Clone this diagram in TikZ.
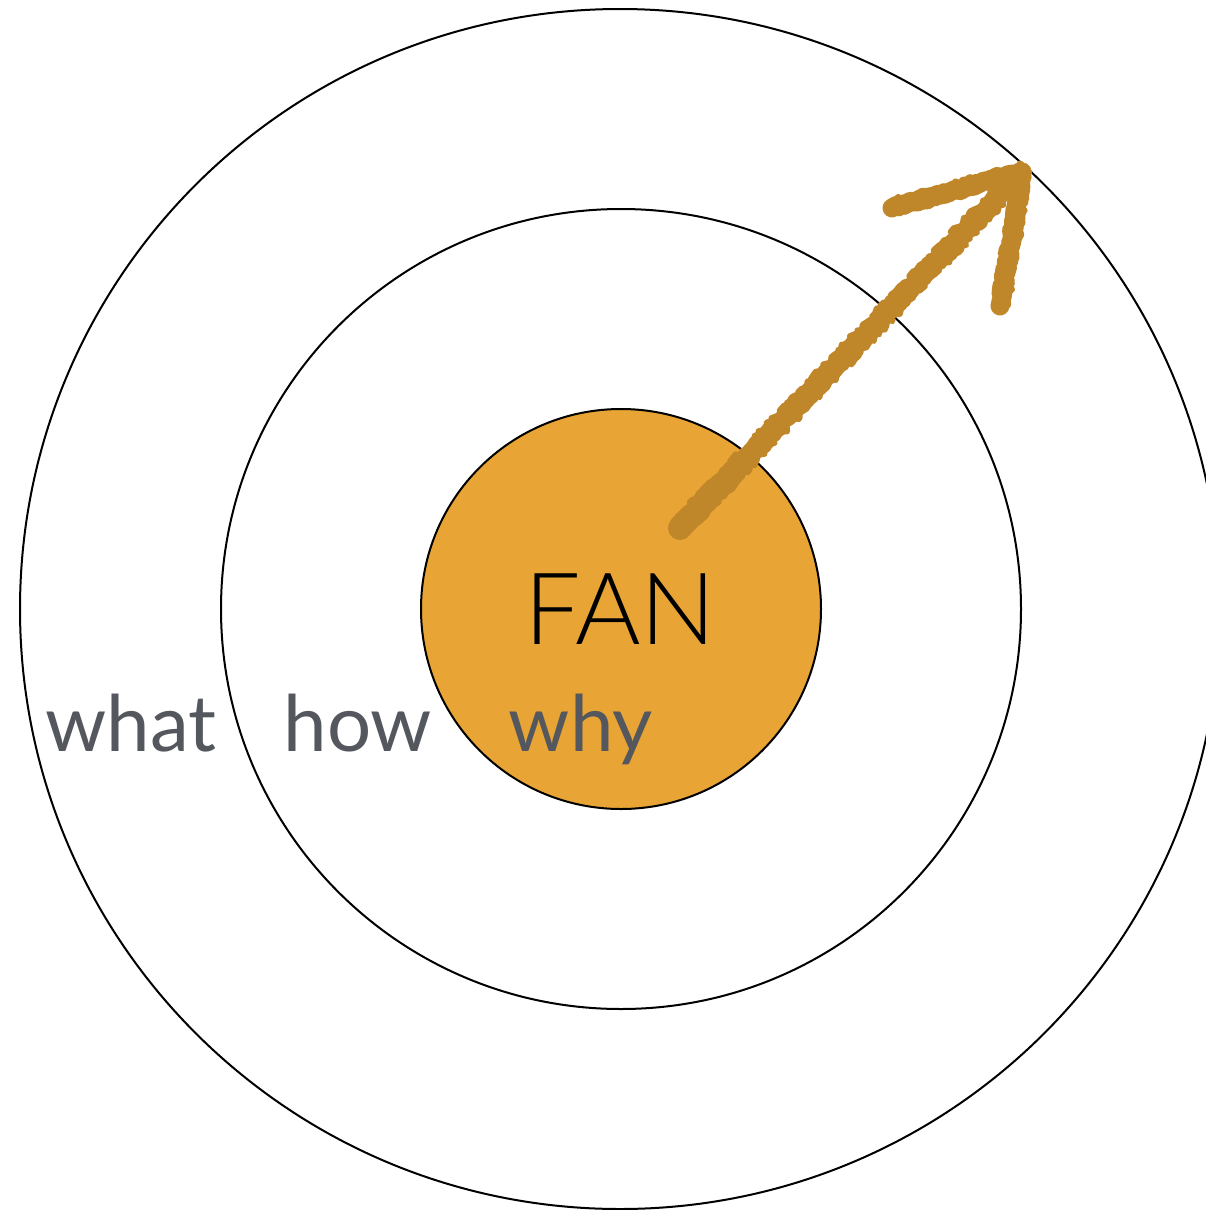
\documentclass[tikz,border=0pt]{standalone}
\usepackage{fontspec}
\setmainfont{Lato}
\newfontfamily\fanfont{Lato Light}
\usetikzlibrary{decorations.pathmorphing,calc}
\definecolor{fanfill}{HTML}{E8A535}
\definecolor{chalk}{HTML}{C0862A}
\definecolor{wordgray}{HTML}{54585E}
\tikzset{
  ring/.style={circle, draw=black, line width=2pt, inner sep=0pt},
  word/.style={text=wordgray, font=\fontsize{78}{90}\selectfont, inner sep=0pt, anchor=base},
  chalkmain/.style={draw=chalk, line width=19pt, line cap=round, line join=round,
    decorate, decoration={random steps, segment length=5pt, amplitude=1.5pt}},
  chalkedge/.style={draw=chalk, line width=6pt, line cap=round, line join=round,
    decorate, decoration={random steps, segment length=3pt, amplitude=2.5pt}}
}
\begin{document}
\begin{tikzpicture}[x=1pt,y=-1pt]
\pgfmathsetseed{7}
\useasboundingbox (0,0) rectangle (1206,1210);
\begin{scope}
\clip (0,0) rectangle (1206,1210);
\node[ring, minimum size=1200pt] (outer) at (620,609) {};
\end{scope}
\node[ring, minimum size=800pt] (middle) at (621,609) {};
\node[ring, minimum size=400pt, fill=fanfill] (inner) at (621,609) {};
\node[inner sep=0pt, anchor=base, font=\fanfont\fontsize{100}{110}\selectfont] (fan) at (620,644) {FAN};
\node[word] (what) at (131,751) {what};
\node[word] (how) at (358,751) {how};
\node[word] (why) at (581,751) {why};
% chalk arrow
\coordinate (as) at (680,528);
\coordinate (at) at (1022,172);
\coordinate (bl) at (892,208);
\coordinate (bd) at (1000,306);
\draw[chalkmain] (as) -- (at);
\draw[chalkmain] (bl) -- (at) -- (bd);
\draw[chalkedge] ([shift={(-6,-6)}]as) -- ([shift={(-5,-6)}]at);
\draw[chalkedge] ([shift={(6,5)}]as) -- ([shift={(5,6)}]at);
\draw[chalkedge] ([shift={(0,-7)}]bl) -- ([shift={(0,-7)}]at);
\draw[chalkedge] ([shift={(0,6)}]bl) -- ([shift={(-8,6)}]at);
\draw[chalkedge] ([shift={(7,0)}]at) -- ([shift={(7,0)}]bd);
\draw[chalkedge] ([shift={(-6,8)}]at) -- ([shift={(-6,0)}]bd);
\draw[chalkmain, line width=24pt] (as) -- ($(as)!0.15!(at)$);
\end{tikzpicture}
\end{document}
